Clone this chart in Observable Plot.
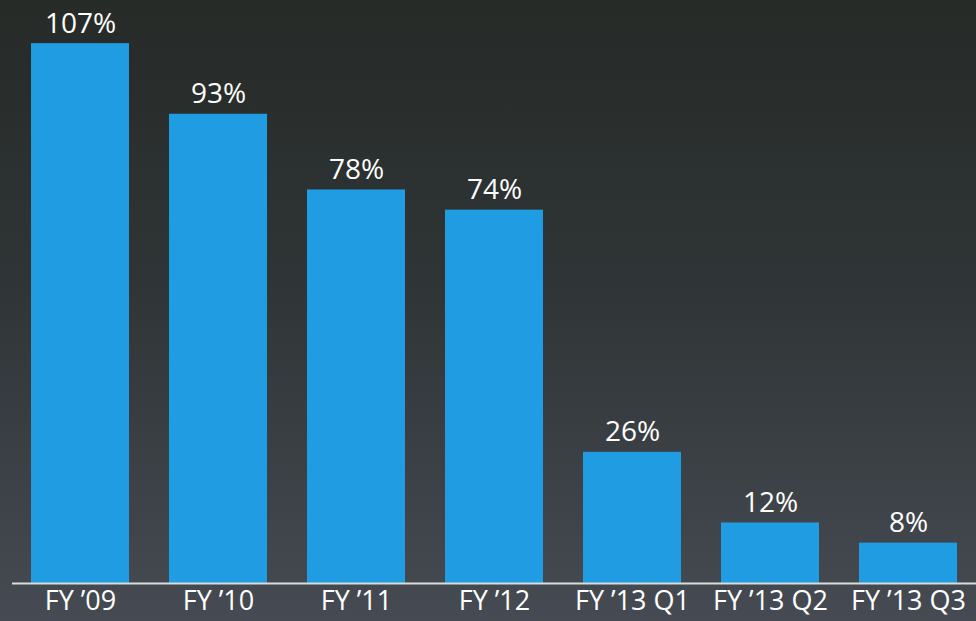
<!DOCTYPE html>
<html>
<head>
<meta charset="utf-8">
<script src="https://cdn.jsdelivr.net/npm/d3@7"></script>
<script src="https://cdn.jsdelivr.net/npm/@observablehq/plot@0.6"></script>
<style>
  html, body { margin: 0; padding: 0; }
  body {
    width: 976px; height: 621px; overflow: hidden;
    background: linear-gradient(to bottom, #262b28 0%, #2f3436 45%, #464b53 100%);
  }
  #chart svg { display: block; background: transparent; }
</style>
</head>
<body>
<div id="chart"></div>
<script>
const categories = ["FY ’09", "FY ’10", "FY ’11", "FY ’12", "FY ’13 Q1", "FY ’13 Q2", "FY ’13 Q3"];
const values = [107, 93, 78, 74, 26, 12, 8];
const valueLabels = ["107%", "93%", "78%", "74%", "26%", "12%", "8%"];

const data = categories.map((c, i) => ({category: c, value: values[i], label: valueLabels[i]}));

const chart = Plot.plot({
  width: 976,
  height: 621,
  marginLeft: 12,
  marginRight: 0,
  marginTop: 28,
  marginBottom: 38,
  style: {background: "transparent", color: "white", fontFamily: "'Open Sans', 'Noto Sans', sans-serif"},
  x: {domain: categories, paddingInner: 0.29, paddingOuter: 0.1377, label: null},
  y: {domain: [0, 110], axis: null},
  marks: [
    Plot.barY(data, {x: "category", y: "value", fill: "#209ce3"}),
    Plot.ruleY([0], {stroke: "#d8dcdc", strokeWidth: 2}),
    Plot.text(data, {x: "category", y: "value", text: "label", lineAnchor: "bottom", dy: -11, fill: "white", fontSize: 28}),
    Plot.axisX({tickSize: 0, tickPadding: 7, fontSize: 27, fill: "white", label: null})
  ]
});
document.getElementById("chart").appendChild(chart);
</script>
</body>
</html>
